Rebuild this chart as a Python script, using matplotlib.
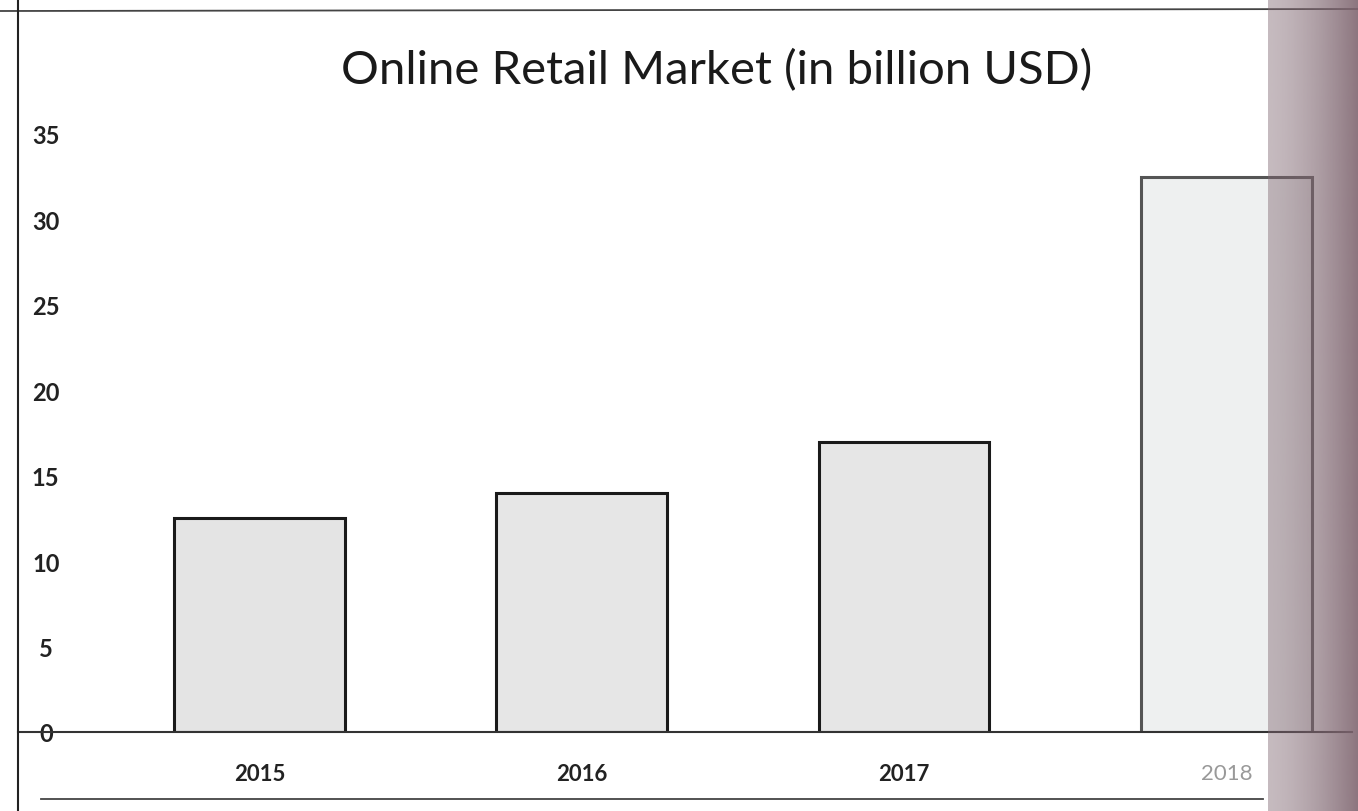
import matplotlib
matplotlib.use("Agg")
import matplotlib.pyplot as plt
import numpy as np
from matplotlib.lines import Line2D

years = ["2015", "2016", "2017", "2018"]
market = [12.5, 14.0, 17.0, 32.5]
y_ticks = [0, 5, 10, 15, 20, 25, 30, 35]
title = "Online Retail Market (in billion USD)"

plt.rcParams["font.family"] = ["Lato", "DejaVu Sans"]

fig = plt.figure(figsize=(13.58, 8.12), dpi=100)
fig.patch.set_facecolor("white")

# axes: left spine at x≈18px, baseline at y≈733px
W, H = 1358, 812
left_px, right_px = 18, 1352
base_px, top_px = 733, 100
ax = fig.add_axes([left_px / W, (H - base_px) / H,
                   (right_px - left_px) / W, (base_px - top_px) / H])
ax.set_facecolor("none")

x = np.arange(len(years))
ax.set_xlim(-0.75, 3.39)
ax.set_ylim(0, 35 * (base_px - top_px) / (base_px - 135))

edge_cols = ["#1a1a1a", "#1a1a1a", "#1a1a1a", "#555555"]
face_cols = ["#e4e4e4", "#e6e6e6", "#e6e6e6", "#eef0f0"]
ax.bar(x, market, width=0.53, color=face_cols, edgecolor=edge_cols,
       linewidth=2.2, zorder=2)

for s in ["top", "right"]:
    ax.spines[s].set_visible(False)
ax.spines["left"].set_visible(False)
ax.spines["bottom"].set_linewidth(1.5)
ax.spines["bottom"].set_color("#333333")

ax.set_yticks(y_ticks)
ax.set_yticklabels([str(v) for v in y_ticks])
ax.tick_params(axis="y", length=0, pad=-20, labelsize=17)
for lab in ax.get_yticklabels():
    lab.set_fontweight("bold")
    lab.set_color("#222222")
    lab.set_horizontalalignment("center")

ax.set_xticks(x)
ax.set_xticklabels(years)
ax.tick_params(axis="x", length=0, pad=22, labelsize=16)
for i, lab in enumerate(ax.get_xticklabels()):
    lab.set_fontweight("bold")
    lab.set_color("#222222" if i < 3 else "#999999")
    if i == 3:
        lab.set_fontweight("normal")

fig.text(0.528, 0.913, title, ha="center", va="center", fontsize=34,
         color="#1a1a1a")

# page frame lines
fig.add_artist(Line2D([0, 1], [1 - 12 / H, 1 - 10 / H], transform=fig.transFigure,
                      color="#444444", lw=1.3))
fig.add_artist(Line2D([0.03, 0.93], [1 - 800 / H, 1 - 800 / H], transform=fig.transFigure,
                      color="#444444", lw=1.3))
fig.add_artist(Line2D([left_px / W, left_px / W], [0, 1], transform=fig.transFigure,
                      color="#222222", lw=1.5))

# shadow along the right edge of the page
sx0 = 1268
shade = fig.add_axes([sx0 / W, 0, (W - sx0) / W, 1], zorder=5)
shade.axis("off")
t = np.linspace(0, 1, 200)
alpha = 0.45 + 0.45 * t ** 1.5
rgba = np.zeros((1, len(t), 4))
rgba[..., 0] = 0.50
rgba[..., 1] = 0.40
rgba[..., 2] = 0.44
rgba[..., 3] = alpha
shade.imshow(rgba, aspect="auto", extent=[0, 1, 0, 1], interpolation="bilinear")

fig.savefig("out.png", dpi=100, facecolor="white")
